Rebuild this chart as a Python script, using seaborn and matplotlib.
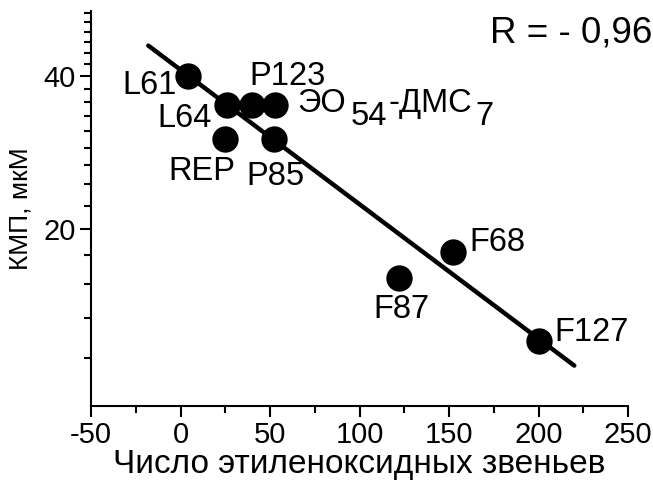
import numpy as np
import matplotlib
matplotlib.use("Agg")
import matplotlib.pyplot as plt
import matplotlib.ticker as mticker
import seaborn as sns
import pandas as pd

# ---- data ----
names = ["L61", "L64", "P123", "ЭО54-ДМС7", "REP", "P85", "F68", "F87", "F127"]
eo_units = [4, 26, 40, 53, 25, 52, 152, 122, 200]
cmc = [40, 35, 35, 35, 30, 30, 18, 16, 12]
fit_x = [-18, 220]
fit_y = [45.9, 10.75]
x_ticks = [-50, 0, 50, 100, 150, 200, 250]
y_ticks = [20, 40]

sns.set_theme(style="ticks")
plt.rcParams['font.family'] = ['Liberation Sans', 'DejaVu Sans']
plt.rcParams['text.color'] = 'black'
plt.rcParams['axes.labelcolor'] = 'black'
plt.rcParams['xtick.color'] = 'black'
plt.rcParams['ytick.color'] = 'black'

fig = plt.figure(figsize=(6.53, 4.86), dpi=100)
ax = fig.add_axes([91/653, 1-406/486, (628-91)/653, (406-11)/486])

df = pd.DataFrame({"x": eo_units, "y": cmc, "name": names})
fit = pd.DataFrame({"x": fit_x, "y": fit_y})

sns.lineplot(data=fit, x="x", y="y", ax=ax, color="black", linewidth=3.2, sort=False)
sns.scatterplot(data=df, x="x", y="y", ax=ax, color="black", s=360, edgecolor="black", linewidth=0, zorder=3)

ax.set_yscale("log")
ax.set_xlim(-50, 250)
ax.set_ylim(8.95, 53.7)
ax.set_xticks(x_ticks)
ax.set_xticks([v + 25 for v in x_ticks[:-1]], minor=True)
ax.yaxis.set_major_locator(mticker.FixedLocator(y_ticks))
ax.yaxis.set_minor_locator(mticker.FixedLocator([20 + k * 20 / 9 for k in range(-5, 16) if k not in (0, 9)]))
ax.yaxis.set_major_formatter(mticker.FixedFormatter([str(v) for v in y_ticks]))
ax.yaxis.set_minor_formatter(mticker.NullFormatter())
ax.xaxis.set_major_formatter(mticker.FuncFormatter(lambda v, p: f"{v:g}"))

tick_fs = 21
lab_fs = 23.5
ax.tick_params(axis="both", which="major", labelsize=tick_fs, length=8, width=1.5, direction="out", colors="black", pad=3)
ax.tick_params(axis="both", which="minor", length=5, width=1.5, direction="out", colors="black")
for s in ["top", "right"]:
    ax.spines[s].set_visible(False)
for s in ["left", "bottom"]:
    ax.spines[s].set_linewidth(1.5)
    ax.spines[s].set_color("black")

ax.set_xlabel("Число этиленоксидных звеньев", fontsize=24, labelpad=0, color="black")
ax.set_ylabel("КМП, мкМ", fontsize=19, labelpad=8, color="black")

offsets = {
    "L61": (-11, -10, "right"),
    "L64": (-15, -13, "right"),
    "P123": (35, 29, "center"),
    "REP": (-23, -32, "center"),
    "P85": (2, -37, "center"),
    "F68": (17, 9, "left"),
    "F87": (3, -32, "center"),
    "F127": (16, 9, "left"),
}
for n, xv, yv in zip(names, eo_units, cmc):
    if n in offsets:
        dx, dy, ha = offsets[n]
        ax.annotate(n, (xv, yv), xytext=(dx, dy), textcoords="offset pixels",
                    ha=ha, va="center", fontsize=lab_fs, color="black")
    else:
        t1 = ax.annotate("ЭО", (xv, yv), xytext=(22, 2), textcoords="offset pixels",
                         ha="left", va="center", fontsize=lab_fs, color="black")
        t2 = ax.annotate("54", (1, 0.5), xycoords=t1, xytext=(5, -13), textcoords="offset pixels",
                         ha="left", va="center", fontsize=lab_fs, color="black")
        t3 = ax.annotate("-ДМС", (1, 0.5), xycoords=t2, xytext=(1, 13), textcoords="offset pixels",
                         ha="left", va="center", fontsize=lab_fs, color="black")
        ax.annotate("7", (1, 0.5), xycoords=t3, xytext=(3, -13), textcoords="offset pixels",
                    ha="left", va="center", fontsize=lab_fs, color="black")

fig.text(652/653, 1-33/486, "R = - 0,96", ha="right", va="center", fontsize=26.5, color="black")

fig.savefig("out.png", dpi=100)
